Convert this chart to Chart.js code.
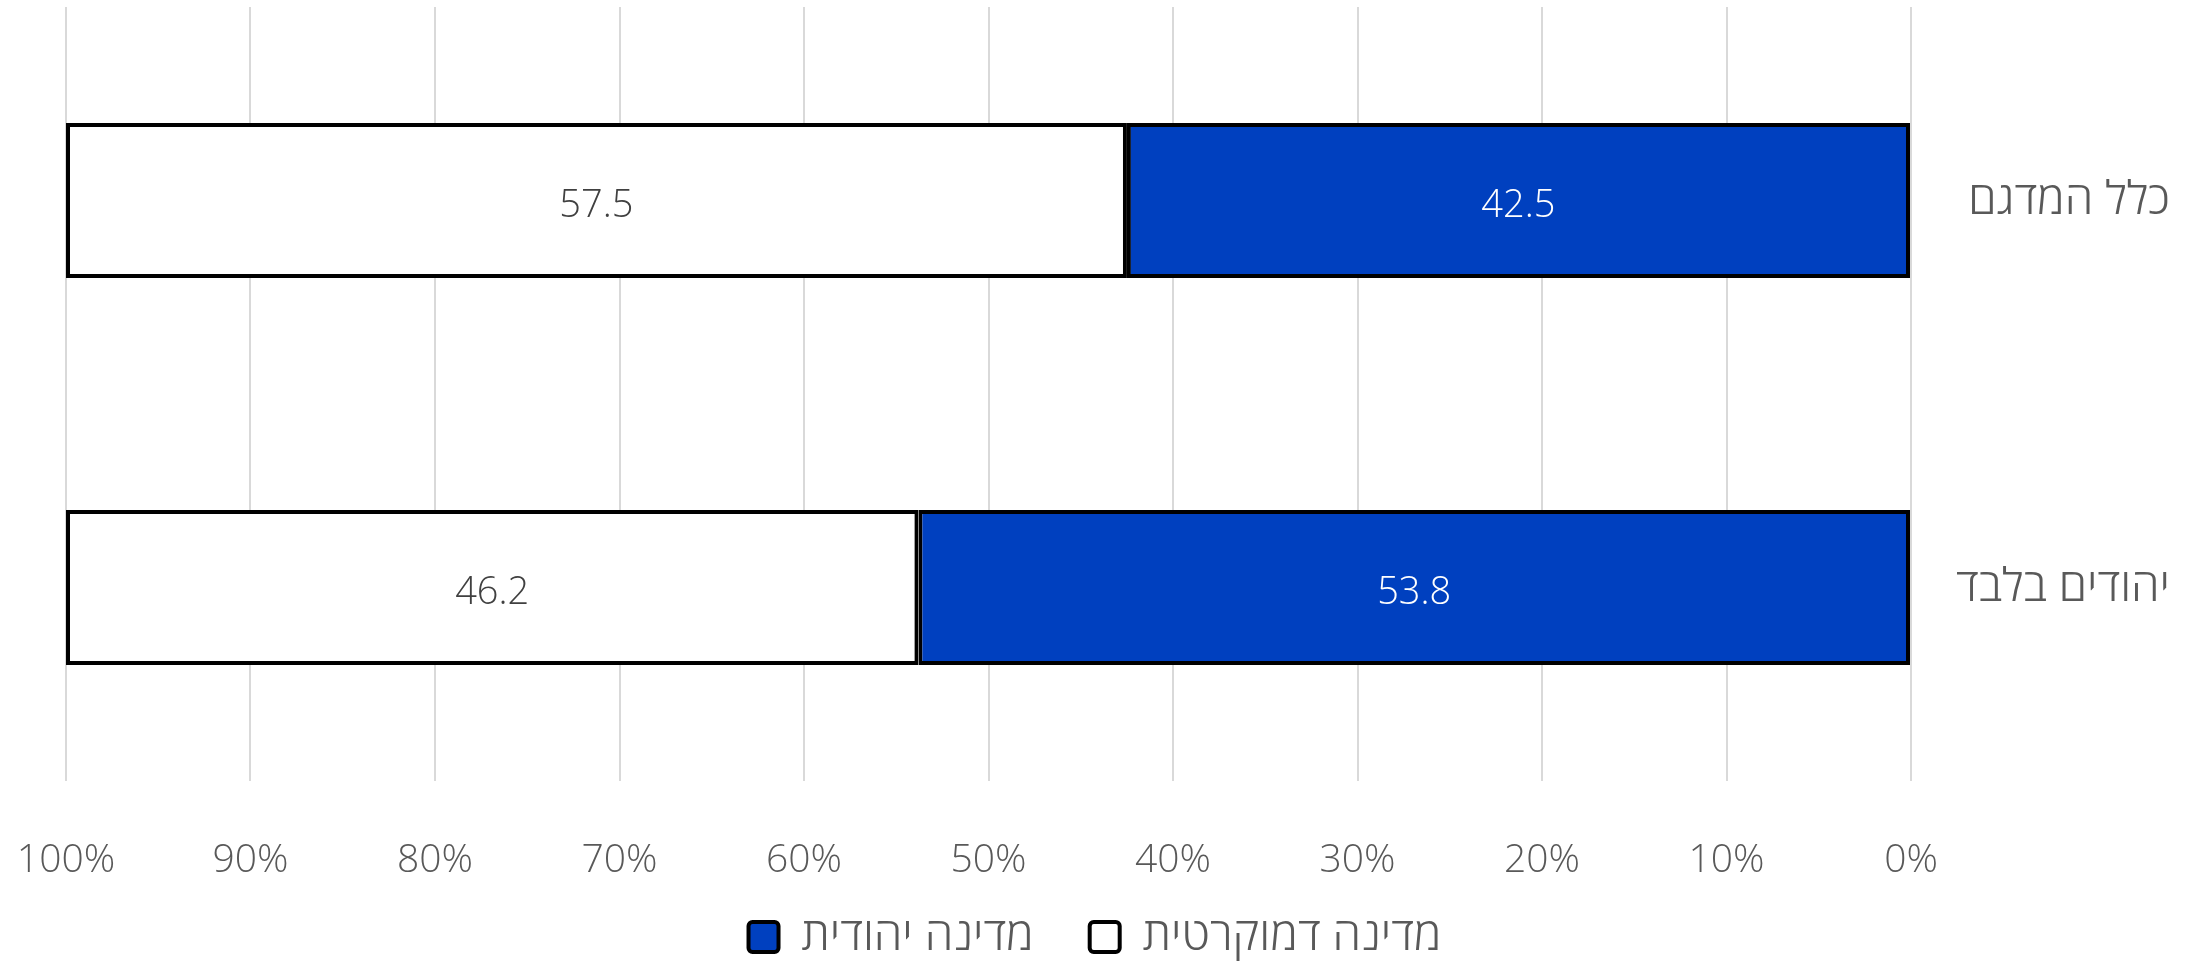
<!DOCTYPE html>
<html lang="he">
<head>
<meta charset="utf-8">
<script src="https://cdn.jsdelivr.net/npm/chart.js@4/dist/chart.umd.min.js"></script>
<style>
  html, body { margin: 0; padding: 0; background: #fff; }
  #wrap { width: 2200px; height: 961px; position: relative; }
</style>
</head>
<body>
<div id="wrap"><canvas id="chart"></canvas></div>
<script>
// נתונים
const categories = ['כלל המדגם', 'יהודים בלבד'];
const seriesNames = ['מדינה יהודית', 'מדינה דמוקרטית'];
const jewishValues = [42.5, 53.8];
const democraticValues = [57.5, 46.2];

const blue = '#0040BF';
const textGray = '#595959';
const fontFamily = "'Open Sans', 'DejaVu Sans', sans-serif";

// תוויות ערכים בתוך העמודות
const valueLabels = {
  id: 'valueLabels',
  afterDatasetsDraw(chart) {
    const ctx = chart.ctx;
    ctx.save();
    ctx.font = '300 38px ' + fontFamily;
    ctx.textAlign = 'center';
    ctx.textBaseline = 'middle';
    chart.data.datasets.forEach((ds, i) => {
      const meta = chart.getDatasetMeta(i);
      meta.data.forEach((bar, j) => {
        const p = bar.getCenterPoint();
        ctx.fillStyle = i === 0 ? '#ffffff' : '#404040';
        ctx.fillText(ds.data[j].toFixed(1), p.x, p.y + 6);
      });
    });
    ctx.restore();
  }
};

new Chart(document.getElementById('chart'), {
  type: 'bar',
  data: {
    labels: categories,
    datasets: [{
      label: seriesNames[0],
      data: jewishValues,
      backgroundColor: blue,
      borderColor: '#000',
      borderWidth: 4,
      borderSkipped: false
    }, {
      label: seriesNames[1],
      data: democraticValues,
      backgroundColor: '#ffffff',
      borderColor: '#000',
      borderWidth: 4,
      borderSkipped: false
    }]
  },
  options: {
    indexAxis: 'y',
    responsive: true,
    maintainAspectRatio: false,
    animation: false,
    barPercentage: 0.5,
    categoryPercentage: 0.8,
    layout: { padding: { top: 7, left: 66, right: 30, bottom: -9 } },
    scales: {
      x: {
        stacked: true,
        reverse: true,
        min: 0,
        max: 100,
        grid: { color: '#d9d9d9', lineWidth: 2, drawTicks: false },
        border: { display: false },
        // גובה קבוע לציר, בלי ריפוד אוטומטי לצדדים
        afterFit: scale => {
          scale.height = 100;
          scale.paddingLeft = 0;
          scale.paddingRight = 0;
        },
        ticks: {
          stepSize: 10,
          padding: 56,
          color: textGray,
          font: { family: fontFamily, size: 39, weight: '300' },
          callback: v => v + '%'
        }
      },
      y: {
        stacked: true,
        position: 'right',
        grid: { display: false },
        border: { display: false },
        afterFit: scale => {
          scale.width = 259;
          scale.paddingTop = 0;
          scale.paddingBottom = 0;
        },
        ticks: {
          padding: 12,
          crossAlign: 'far',
          color: textGray,
          font: { family: fontFamily, size: 46, weight: '300' }
        }
      }
    },
    plugins: {
      tooltip: { enabled: false },
      legend: {
        position: 'bottom',
        labels: {
          boxWidth: 30,
          boxHeight: 30,
          padding: 33,
          color: textGray,
          useBorderRadius: true,
          borderRadius: 4,
          font: { family: fontFamily, size: 46, weight: '300' },
          // רווח נוסף בין הפריטים ומרכוז כמו במקור
          generateLabels: chart => {
            const items = Chart.defaults.plugins.legend.labels.generateLabels(chart);
            items[0].text = items[0].text + '\u2002';
            items[1].text = items[1].text + '\u2003';
            return items;
          }
        }
      }
    }
  },
  plugins: [valueLabels]
});
</script>
</body>
</html>
